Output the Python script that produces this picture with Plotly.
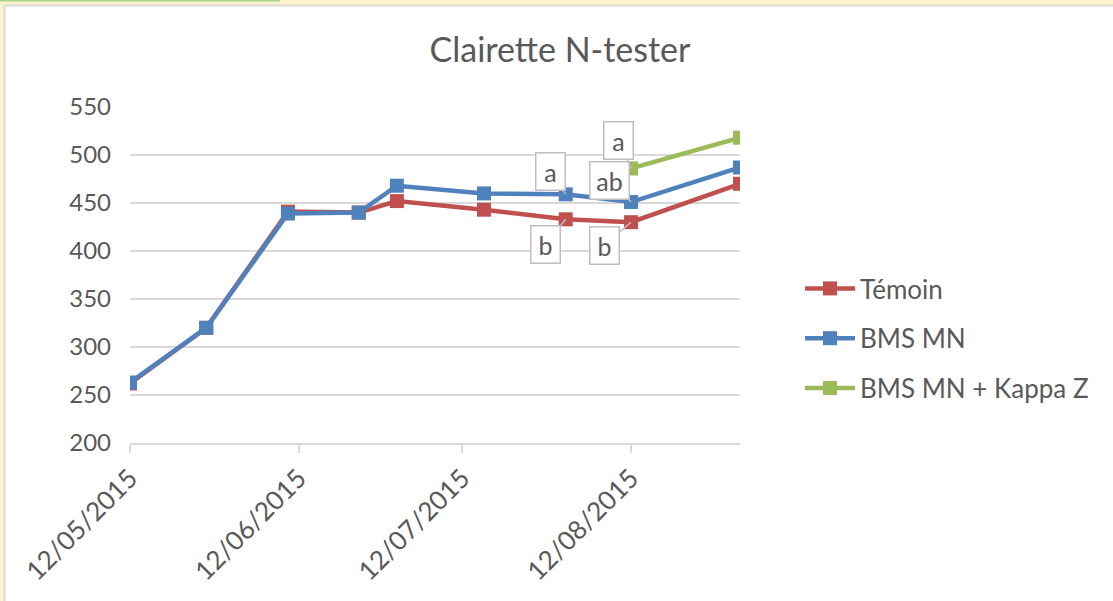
import plotly.graph_objects as go

dates = ["2015-05-12", "2015-05-26", "2015-06-10", "2015-06-23", "2015-06-30",
         "2015-07-16", "2015-07-31", "2015-08-12", "2015-09-01"]
temoin = [262, 320, 441, 440, 452, 443, 433, 430, 470]
bms_mn = [263, 320, 439, 440, 468, 460, 459, 451, 487]
bms_kappa = [None, None, None, None, None, None, None, 486, 518]

series_names = ["Témoin", "BMS MN", "BMS MN + Kappa Z"]
series_colors = ["#C0504D", "#4F81BD", "#9BBB59"]

tick_dates = ["2015-05-12", "2015-06-12", "2015-07-12", "2015-08-12"]
tick_labels = ["12/05/2015", "12/06/2015", "12/07/2015", "12/08/2015"]

# significance letters: (series index, point index, text, ax, ay)
letters = [
    (1, 6, "a", -15, -23),
    (0, 6, "b", -20, 25),
    (2, 7, "a", -13, -28),
    (1, 7, "ab", -22, -22),
    (0, 7, "b", -27, 23),
]

W, H = 1113, 601
L, R, T, B = 130, 740, 107, 443
FONT = "Lato"
TXT = "#595959"

fig = go.Figure()
all_series = [temoin, bms_mn, bms_kappa]
for name, vals, col in zip(series_names, all_series, series_colors):
    fig.add_trace(go.Scatter(
        x=dates, y=vals, name=name, mode="lines+markers",
        line=dict(color=col, width=4.5),
        marker=dict(symbol="square", size=14, color=col),
        connectgaps=False,
        legendgroup=name,
    ))

for si, pi, txt, ax, ay in letters:
    fig.add_annotation(
        x=dates[pi], y=all_series[si][pi], text=txt,
        ax=ax, ay=ay, showarrow=True, arrowhead=0, arrowwidth=1.5,
        arrowcolor="#BFBFBF", bgcolor="white", bordercolor="#BFBFBF",
        borderwidth=1.5, borderpad=2,
        width=24 if len(txt) == 1 else 34, height=32,
        font=dict(family=FONT, size=25, color=TXT),
    )

def px_x(p):
    return (p - L) / (R - L)

def px_y(p):
    return (B - p) / (B - T)

# chart frame (white area with light grey border) and top green line
fig.add_shape(type="rect", xref="paper", yref="paper",
              x0=px_x(4.5), x1=px_x(1200), y0=px_y(5.5), y1=px_y(700),
              fillcolor="white", line=dict(color="#D9D9D9", width=2), layer="below")
fig.add_shape(type="line", xref="paper", yref="paper",
              x0=px_x(0), x1=px_x(280), y0=px_y(0.5), y1=px_y(0.5),
              line=dict(color="#A9D18E", width=2), layer="below")

fig.update_layout(
    width=W, height=H,
    margin=dict(l=L, r=W - R, t=T, b=H - B, autoexpand=False),
    paper_bgcolor="#FFF2CC",
    plot_bgcolor="white",
    font=dict(family=FONT, size=20, color=TXT),
    title=dict(text="Clairette N-tester", x=560 / W, xanchor="center",
               y=1 - 50 / H, yanchor="middle",
               font=dict(family=FONT, size=34, color=TXT)),
    showlegend=True,
    legend=dict(x=px_x(800), xanchor="left", y=px_y(265), yanchor="top",
                font=dict(family=FONT, size=26, color=TXT),
                tracegroupgap=13, bgcolor="rgba(0,0,0,0)",
                itemwidth=50),
    xaxis=dict(
        type="date", range=[dates[0], dates[-1]],
        tickvals=tick_dates, ticktext=tick_labels, tickangle=-45,
        showgrid=False, zeroline=False,
        ticks="outside", ticklen=8, tickwidth=1.5, tickcolor="#D9D9D9",
        showline=True, linecolor="#D9D9D9", linewidth=1.5,
        tickfont=dict(family=FONT, size=26, color=TXT),
    ),
    yaxis=dict(
        range=[200, 550], dtick=50, tick0=200,
        showgrid=True, gridcolor="#D9D9D9", gridwidth=1.5,
        zeroline=False, showline=False, ticks="",
        ticklabelstandoff=18,
        tickfont=dict(family=FONT, size=24, color=TXT),
    ),
)

fig.write_html("out.html", config={"displayModeBar": False},
               post_script="document.body.style.margin='0';")
